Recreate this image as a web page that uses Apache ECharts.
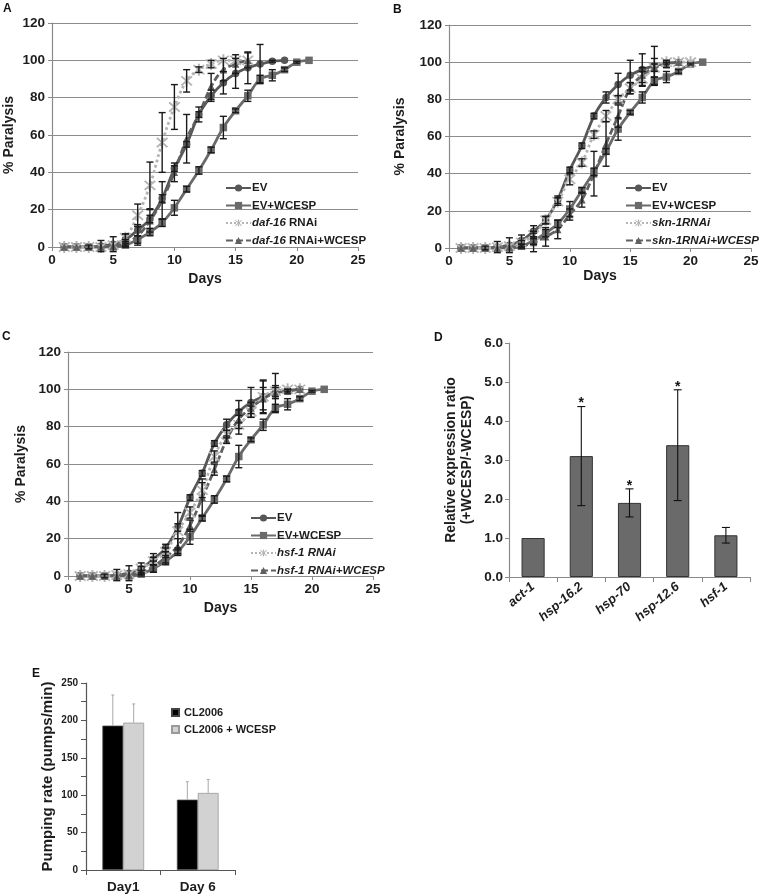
<!DOCTYPE html>
<html><head><meta charset="utf-8">
<script src="https://cdn.jsdelivr.net/npm/echarts@6/dist/echarts.min.js"></script>
<style>html,body{margin:0;padding:0;background:#fff}#c{width:760px;height:895px}</style>
</head><body><div id="c"></div>
<script>
// ---------- DATA ----------
const days = [1,2,3,4,5,6,7,8,9,10,11,12,13,14,15,16,17,18,19,20,21];
const xTicks = [0,5,10,15,20,25];
const yTicksParalysis = [0,20,40,60,80,100,120];

// shared controls (A, B, C)
const evVals  = [0,0,0,0.5,1.5,4,9,15,26,42,55,71,81,88,93,96,98,99.5,100,null,null];
const evErr   = [0,0,1,3,4,3,3,2,2,1.5,1.5,1.5,3,6,8,8.5,10.5,0.5,0,0,0];
const evwVals = [0,0,0,0,0,1,4,8,13,21,31,41,52,64,73,81,90,92,95,99,100];
const evwErr  = [0,0,0,0,0,1,2,2,2,4,1.5,2,1.5,6,1,3,2,3,1,0.5,0];

// panel A
const daf16Vals  = [0,0,0,0,1,5,17,33,56,75,89,95,98,100,100,100,null,null,null,null,null];
const daf16Err   = [0,0,0,0,0,2,6,12.5,16,12,6,1.5,2,0,0,0,0,0,0,0,0];
const daf16wVals = [0,0,0,0,0.5,2,6,14,25,40,58,71,86,95,98,100,null,null,null,null,null];
const daf16wErr  = [0,0,0,0,0,2,5,6,10,5,13,4,7,6,5,4,0,0,0,0,0];

// panel B
const skn1Vals  = [0,0,0,0.5,1,3,7,15,25,37,46,61,71,80,86,91,97,100,100,100,null];
const skn1Err   = [0,0,0,0,0,1,2,2,2,3,2,2,3,2,3,4,2,0,0,0,0];
const skn1wVals = [0,0,0,0,0.5,1,3,6,10,18,26,40,56,71,86,93,97,99,100,null,null];
const skn1wErr  = [0,0,0,0,0,1,5,5,5,3,4,12,12,6,3,4,5,2,0,0,0];

// panel C
const hsf1Vals  = [0,0,0,0.5,1,4,8,13,24,34,46,64,76,81,88,96,99,100,100,null,null];
const hsf1Err   = [0,0,0,0,0,1,2,2,10,3,4,3,2,5,3,9,3,0,0,0,0];
const hsf1wVals = [0,0,0,0,0.5,2,5,10,16,27,42,57,73,84,90,95,98,99,100,null,null];
const hsf1wErr  = [0,0,0,0,0,1,3,3,4,3,10,3,2,5,3,6,3,1,0,0,0];

// panel D
const dCats = ['act-1','hsp-16.2','hsp-70','hsp-12.6','hsf-1'];
const dVals = [1.0, 3.1, 1.9, 3.38, 1.07];
const dErr  = [0, 1.27, 0.36, 1.42, 0.2];
const dSig  = [false, true, true, true, false];

// panel E
const eCats = ['Day1','Day 6'];
const eCL    = [193, 94];
const eCLErr = [41, 24];
const eW     = [197, 103];
const eWErr  = [25, 18];

// ---------- STYLE ----------
const FONT = "'Liberation Sans', Arial, Helvetica, sans-serif";
const TXT = '#1c1c1c';
const XPATH = 'path://M4.3,0 H5.7 V10 H4.3 Z M0.7,1.7 L1.7,0.7 L9.3,8.3 L8.3,9.3 Z M8.3,0.7 L9.3,1.7 L1.7,9.3 L0.7,8.3 Z';
const STY = {
  ev:   {color:'#575757', symbol:'circle',   size:7.5, type:'solid'},
  evw:  {color:'#6a6a6a', symbol:'rect',     size:7.5, type:'solid'},
  rnai: {color:'#b4b4b4', symbol:XPATH,      size:12,  type:'dotted'},
  rnaiw:{color:'#606060', symbol:'triangle', size:7.5, type:[7,3]}
};

function lineSeries(name, vals, g, s){
  return {type:'line', name, xAxisIndex:g, yAxisIndex:g, smooth:0.35,
    data: vals.map((v,i)=>v==null?null:[days[i],v]).filter(d=>d),
    symbol:s.symbol, symbolSize:s.size, showAllSymbol:true,
    lineStyle:{color:s.color, width:2.8, type:s.type},
    itemStyle:{color:s.color}, z:2, animation:false};
}
function errSeries(vals, errs, g){
  return {type:'custom', xAxisIndex:g, yAxisIndex:g, z:4, silent:true, animation:false,
    data: vals.map((v,i)=>(v==null||!errs[i])?null:[days[i],v,errs[i]]).filter(d=>d),
    renderItem:(p,api)=>{
      const x=api.value(0), y=api.value(1), e=api.value(2);
      const t=api.coord([x,y+e]), b=api.coord([x,y-e]); const w=3.5;
      const st={stroke:'#1a1a1a', lineWidth:1.4};
      return {type:'group', children:[
        {type:'line', shape:{x1:t[0],y1:t[1],x2:b[0],y2:b[1]}, style:st},
        {type:'line', shape:{x1:t[0]-w,y1:t[1],x2:t[0]+w,y2:t[1]}, style:st},
        {type:'line', shape:{x1:b[0]-w,y1:b[1],x2:b[0]+w,y2:b[1]}, style:st}]};
    }};
}
function lineXAxis(g){
  return {type:'value', gridIndex:g, min:xTicks[0], max:xTicks[xTicks.length-1], interval:5,
    name:'Days', nameLocation:'middle', nameGap: g===1?20:25,
    nameTextStyle:{fontFamily:FONT, fontSize:14, fontWeight:'bold', color:TXT},
    axisLine:{lineStyle:{color:'#8a8a8a', width:1.2}},
    axisTick:{show:true, length:4, lineStyle:{color:'#8a8a8a'}},
    axisLabel:{fontFamily:FONT, fontSize:13.5, fontWeight:'bold', color:TXT, margin:6},
    splitLine:{show:false}};
}
function lineYAxis(g, gap){
  return {type:'value', gridIndex:g, min:yTicksParalysis[0], max:yTicksParalysis[yTicksParalysis.length-1], interval:20,
    name:'% Paralysis', nameLocation:'middle', nameGap:gap,
    nameTextStyle:{fontFamily:FONT, fontSize:14, fontWeight:'bold', color:TXT},
    axisLine:{show:true, lineStyle:{color:'#8a8a8a', width:1.2}},
    axisTick:{show:true, length:4, lineStyle:{color:'#8a8a8a'}},
    axisLabel:{fontFamily:FONT, fontSize:13.5, fontWeight:'bold', color:TXT, margin:7},
    splitLine:{show:true, lineStyle:{color:'#8c8c8c', width:1}}};
}
function fmtLegend(prefix, allItalic){
  return function(name){
    if(name.indexOf(prefix)===0){
      if(allItalic) return '{i|'+name+'}';
      return '{i|'+prefix+'}'+name.slice(prefix.length);
    }
    return name;
  };
}
function lineLegend(names, left, top, prefix, allItalic){
  return {data:names, left, top, orient:'vertical', itemWidth:25, itemHeight:9, itemGap:5.5,
    selectedMode:false, formatter:fmtLegend(prefix, allItalic),
    textStyle:{fontFamily:FONT, fontSize:11.5, fontWeight:'bold', color:TXT, padding:[0,0,0,-4],
      rich:{i:{fontFamily:FONT, fontSize:11.5, fontWeight:'bold', fontStyle:'italic', color:TXT}}}};
}

const series = [];
const panels = [
  {g:0, rn:'daf-16 RNAi', rnw:'daf-16 RNAi+WCESP', rv:daf16Vals, re:daf16Err, rwv:daf16wVals, rwe:daf16wErr},
  {g:1, rn:'skn-1RNAi', rnw:'skn-1RNAi+WCESP', rv:skn1Vals, re:skn1Err, rwv:skn1wVals, rwe:skn1wErr},
  {g:2, rn:'hsf-1 RNAi', rnw:'hsf-1 RNAi+WCESP', rv:hsf1Vals, re:hsf1Err, rwv:hsf1wVals, rwe:hsf1wErr}
];
panels.forEach(p=>{
  series.push(lineSeries('EV', evVals, p.g, STY.ev));
  series.push(lineSeries('EV+WCESP', evwVals, p.g, STY.evw));
  series.push(lineSeries(p.rn, p.rv, p.g, STY.rnai));
  series.push(lineSeries(p.rnw, p.rwv, p.g, STY.rnaiw));
  series.push(errSeries(evVals, evErr, p.g));
  series.push(errSeries(evwVals, evwErr, p.g));
  series.push(errSeries(p.rv, p.re, p.g));
  series.push(errSeries(p.rwv, p.rwe, p.g));
});

// panel D
series.push({type:'bar', name:'ratio', xAxisIndex:3, yAxisIndex:3, data:dVals, barWidth:'48%',
  itemStyle:{color:'#6a6a6a', borderColor:'#333', borderWidth:1}, animation:false});
series.push({type:'custom', xAxisIndex:3, yAxisIndex:3, z:4, silent:true, animation:false,
  data: dVals.map((v,i)=>[i, v, dErr[i], dSig[i]?1:0]),
  renderItem:(p,api)=>{
    const i=api.value(0), v=api.value(1), e=api.value(2), s=api.value(3);
    const ch=[];
    const st={stroke:'#111', lineWidth:1.1};
    const t=api.coord([i,v+e]), b=api.coord([i,v-e]); const w=4;
    if(e>0){
      ch.push({type:'line', shape:{x1:t[0],y1:t[1],x2:b[0],y2:b[1]}, style:st});
      ch.push({type:'line', shape:{x1:t[0]-w,y1:t[1],x2:t[0]+w,y2:t[1]}, style:st});
      ch.push({type:'line', shape:{x1:b[0]-w,y1:b[1],x2:b[0]+w,y2:b[1]}, style:st});
    }
    if(s){
      ch.push({type:'text', x:t[0], y:t[1]-3, style:{text:'*', fontFamily:FONT, fontSize:14, fontWeight:'bold', fill:'#111', align:'center', verticalAlign:'middle'}});
    }
    return {type:'group', children:ch};
  }});

// panel E
series.push({type:'bar', name:'CL2006', xAxisIndex:4, yAxisIndex:4, data:eCL, barWidth:'28%', barGap:'0%',
  itemStyle:{color:'#000', borderColor:'#444', borderWidth:0.8}, animation:false});
series.push({type:'bar', name:'CL2006 + WCESP', xAxisIndex:4, yAxisIndex:4, data:eW, barWidth:'28%', barGap:'0%',
  itemStyle:{color:'#d2d2d2', borderColor:'#9a9a9a', borderWidth:0.8}, animation:false});
function eErrSeries(vals, errs, side){
  return {type:'custom', xAxisIndex:4, yAxisIndex:4, z:4, silent:true, animation:false,
    data: vals.map((v,i)=>[i, v, errs[i]]),
    renderItem:(p,api)=>{
      const i=api.value(0), v=api.value(1), e=api.value(2);
      const bw=api.size([1,0])[0];
      const base=api.coord([i,v]), top=api.coord([i,v+e]);
      const x=base[0]+side*bw*0.14;
      const st={stroke:'#a8a8a8', lineWidth:1};
      return {type:'group', children:[
        {type:'line', shape:{x1:x,y1:base[1],x2:x,y2:top[1]}, style:st},
        {type:'line', shape:{x1:x-1.5,y1:top[1],x2:x+1.5,y2:top[1]}, style:st}]};
    }};
}
series.push(eErrSeries(eCL, eCLErr, -1));
series.push(eErrSeries(eW, eWErr, 1));

const titleSty = {fontFamily:FONT, fontSize:12, fontWeight:'bold', color:'#111'};
const option = {
  backgroundColor:'#fff',
  animation:false,
  title:[
    {text:'A', left:1, top:1, textStyle:titleSty, padding:2},
    {text:'B', left:391, top:2, textStyle:titleSty, padding:2},
    {text:'C', left:0, top:329, textStyle:titleSty, padding:2},
    {text:'D', left:432, top:330, textStyle:titleSty, padding:2},
    {text:'E', left:30, top:666, textStyle:titleSty, padding:2}
  ],
  legend:[
    lineLegend(['EV','EV+WCESP','daf-16 RNAi','daf-16 RNAi+WCESP'], 220, 177, 'daf-16', false),
    lineLegend(['EV','EV+WCESP','skn-1RNAi','skn-1RNAi+WCESP'], 620, 177, 'skn-1', true),
    lineLegend(['EV','EV+WCESP','hsf-1 RNAi','hsf-1 RNAi+WCESP'], 245, 507, 'hsf-1', true),
    {data:['CL2006','CL2006 + WCESP'], left:166, top:702, orient:'vertical', icon:'rect',
      itemWidth:7, itemHeight:7, itemGap:6, selectedMode:false,
      textStyle:{fontFamily:FONT, fontSize:11, fontWeight:'bold', color:TXT}}
  ],
  grid:[
    {left:52, top:23, width:306, height:224, outerBoundsMode:'none'},
    {left:449, top:25, width:302, height:223, outerBoundsMode:'none'},
    {left:68, top:352, width:305, height:224, outerBoundsMode:'none'},
    {left:509, top:343, width:241, height:234, outerBoundsMode:'none'},
    {left:86, top:683, width:149, height:187, outerBoundsMode:'none'}
  ],
  xAxis:[
    lineXAxis(0), lineXAxis(1), lineXAxis(2),
    {type:'category', gridIndex:3, data:dCats, boundaryGap:true,
      axisLine:{lineStyle:{color:'#8a8a8a', width:1.2}},
      axisTick:{show:true, alignWithLabel:false, length:5, lineStyle:{color:'#8a8a8a'}},
      axisLabel:{rotate:40, fontFamily:FONT, fontSize:13, fontWeight:'bold', fontStyle:'italic', color:TXT, margin:8, interval:0}},
    {type:'category', gridIndex:4, data:eCats, boundaryGap:true,
      axisLine:{lineStyle:{color:'#555', width:1.2}},
      axisTick:{show:true, alignWithLabel:false, length:5, lineStyle:{color:'#555'}},
      axisLabel:{fontFamily:FONT, fontSize:13.5, fontWeight:'bold', color:TXT, margin:10, interval:0}}
  ],
  yAxis:[
    lineYAxis(0, 36), lineYAxis(1, 42), lineYAxis(2, 40),
    {type:'value', gridIndex:3, min:0, max:6, interval:1,
      name:'Relative expression ratio\n(+WCESP/-WCESP)', nameLocation:'middle', nameGap:34,
      nameTextStyle:{fontFamily:FONT, fontSize:14, fontWeight:'bold', color:TXT, lineHeight:16},
      axisLine:{show:true, lineStyle:{color:'#8a8a8a', width:1.2}},
      axisTick:{show:true, length:4, lineStyle:{color:'#8a8a8a'}},
      axisLabel:{fontFamily:FONT, fontSize:13.5, fontWeight:'bold', color:TXT, margin:6, formatter:v=>v.toFixed(1)},
      splitLine:{show:false}},
    {type:'value', gridIndex:4, min:0, max:250, interval:50,
      name:'Pumping rate (pumps/min)', nameLocation:'middle', nameGap:31,
      nameTextStyle:{fontFamily:FONT, fontSize:15, fontWeight:'bold', color:TXT},
      axisLine:{show:true, lineStyle:{color:'#555', width:1.2}},
      axisTick:{show:true, length:5, lineStyle:{color:'#555'}},
      minorTick:{show:true, splitNumber:2, length:5, lineStyle:{color:'#555'}},
      axisLabel:{fontFamily:FONT, fontSize:10, fontWeight:'bold', color:TXT, margin:8},
      splitLine:{show:false}, minorSplitLine:{show:false}}
  ],
  series
};
const chart = echarts.init(document.getElementById('c'), null, {renderer:'canvas'});
chart.setOption(option);
</script>
</body></html>
